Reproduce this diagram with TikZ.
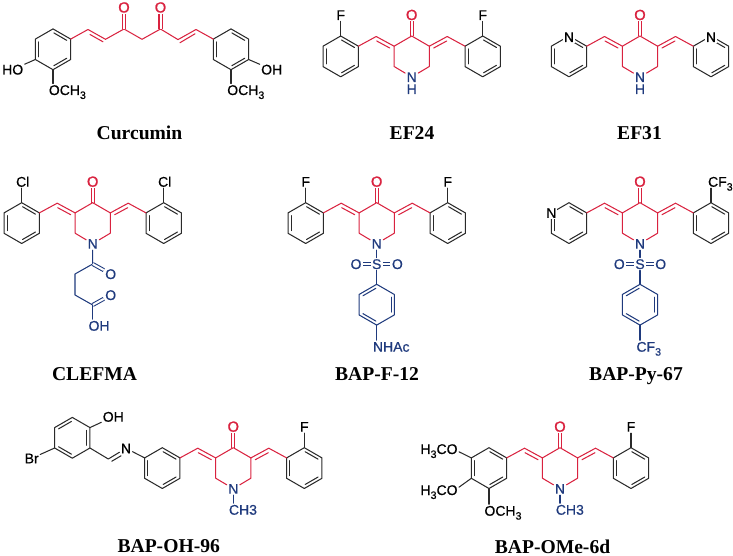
\documentclass[tikz,border=0pt]{standalone}
\usepackage{fontspec}
\usetikzlibrary{calc}
\setmainfont{Liberation Serif}
\setsansfont{Liberation Sans}
\newfontfamily\atomfont[FakeBold=0.6]{Liberation Sans}
\newfontfamily\oxyfont[FakeBold=1.2]{Liberation Sans}
\definecolor{ink}{HTML}{2A2A2A}
\definecolor{cred}{HTML}{D9223F}
\definecolor{cblue}{HTML}{1F3A7D}
\tikzset{
  bond/.style={line width=.78pt,line cap=round,line join=round},
  bk/.style={bond,ink},
  rd/.style={bond,cred},
  bl/.style={bond,cblue},
  dbl/.style={double,double distance=1.5pt,line cap=butt},
  atom/.style={font=\atomfont\fontsize{10.5}{12}\selectfont,text=black,inner sep=.9pt,text height=7.5pt,text depth=0pt},
  hetero/.style={atom,fill=white,inner sep=.5pt},
  oxy/.style={atom,text=cred,font=\oxyfont\fontsize{11}{12}\selectfont},
  blat/.style={atom,text=cblue},
  namelabel/.style={font=\bfseries\fontsize{14.7}{16}\selectfont,text=black,anchor=base,inner sep=0pt},
}
\newcommand\lowsub[1]{\raisebox{-.28em}{\fontsize{8}{8}\selectfont #1}}
% ring: style, name, centre, sides carrying the inner line
\newcommand\ring[4][bk]{%
  \begin{scope}[shift={(#3)}]
    \coordinate (#2t) at (270:20.4);
    \coordinate (#2ur) at (330:20.4);
    \coordinate (#2lr) at (30:20.4);
    \coordinate (#2b) at (90:20.4);
    \coordinate (#2ll) at (150:20.4);
    \coordinate (#2ul) at (210:20.4);
    \draw[#1] (#2t)--(#2ur)--(#2lr)--(#2b)--(#2ll)--(#2ul)--cycle;
    \foreach \s in {#4} \draw[#1] (\s-27:16.4)--(\s+27:16.4);
  \end{scope}}
% piperidone core, origin at the carbonyl carbon
\newcommand\core[1]{%
  \coordinate (#1C4) at (0,0);
  \coordinate (#1C3) at (17.6,10.2);
  \coordinate (#1C5) at (-17.6,10.2);
  \coordinate (#1C2) at (17.6,30.5);
  \coordinate (#1C6) at (-17.6,30.5);
  \coordinate (#1Hr) at (35.5,.5);
  \coordinate (#1Hl) at (-35.5,.5);
  \node[oxy] (#1O) at (0,-21) {O};
  \node[blat] (#1N) at (0,41) {N};
  \ring{#1L}{-71,20.4}{180,300,60}
  \ring{#1R}{71,20.4}{180,300,60}
  \draw[rd,dbl] (#1C4)--(#1O);
  \draw[rd] (#1C3)--(#1C4)--(#1C5)--(#1C6)--(#1N);
  \draw[rd] (#1C3)--(#1C2)--(#1N);
  \draw[rd] (#1Lur)--(#1Hl)--(#1C5);
  \draw[rd] (#1Rul)--(#1Hr)--(#1C3);
  \draw[rd] (-35,5)--(-22,12);
  \draw[rd] (35,5)--(22,12);
}
\begin{document}
\begin{tikzpicture}[x=.75pt,y=-.75pt]
\useasboundingbox (0,0) rectangle (733,556);
% ---------- Curcumin
\ring{ca}{53,49.3}{180,300,60}
\ring{cb}{231,49.3}{180,300,60}
\coordinate (c1) at (88,29.5);
\coordinate (c2) at (105.5,39.3);
\coordinate (c3) at (124,29);
\coordinate (c4) at (142,39.3);
\coordinate (c5) at (160.5,29);
\coordinate (c6) at (178,39.6);
\coordinate (c7) at (196,29.5);
\node[oxy] (co1) at (124,7.5) {O};
\node[oxy] (co2) at (160.5,7.5) {O};
\draw[rd] (caur)--(c1)--(c2)--(c3)--(c4)--(c5)--(c6)--(c7)--(cbul);
\draw[rd] (90,34.5)--(103,41.8);
\draw[rd] (180,42.7)--(195,33.8);
\draw[rd,dbl] (c3)--(co1);
\draw[rd,dbl] (c5)--(co2);
\node[atom] (cho) at (12.7,69.5) {HO};
\node[atom,anchor=west] (cmeo) at (47.4,90) {OCH\lowsub{3}};
\node[atom] (coh) at (271.7,69.5) {OH};
\node[atom,anchor=west] (cmeob) at (225.8,90) {OCH\lowsub{3}};
\draw[bk] (call)--(cho);
\draw[bk] (cab)--(cab|-cmeo.north);
\draw[bk] (cblr)--(coh);
\draw[bk] (cbb)--(cbb|-cmeob.north);
\node[namelabel] (ncur) at (139.5,140) {Curcumin};
% ---------- EF24
\begin{scope}[shift={(411.7,36)}]
\core{e}
\node[blat] (eH) at (0,53) {H};
\node[atom] (eFl) at (-71,-21) {F};
\node[atom] (eFr) at (71,-21) {F};
\draw[bk] (eLt)--(eFl);
\draw[bk] (eRt)--(eFr);
\end{scope}
\node[namelabel] (nef24) at (412,139.5) {EF24};
% ---------- EF31
\begin{scope}[shift={(640,36)}]
\core{f}
\node[blat] (fH) at (0,53) {H};
\node[hetero] (fNl) at ($(fLt)+(0,1)$) {N};
\node[hetero] (fNr) at ($(fRt)+(0,1)$) {N};
\end{scope}
\node[namelabel] (nef31) at (639.5,140) {EF31};
% ---------- CLEFMA
\begin{scope}[shift={(92.7,202.7)}]
\core{g}
\node[atom] (gCll) at (-70,-21) {Cl};
\node[atom] (gClr) at (72,-21) {Cl};
\draw[bk] (gLt)--(gLt|-gCll.south);
\draw[bk] (gRt)--(gRt|-gClr.south);
\coordinate (ga) at (0,61.3);
\coordinate (gb) at (-17.7,71.3);
\coordinate (gc) at (-17.7,92.3);
\coordinate (gd) at (0,102.3);
\node[blat] (gO1) at (18,71.3) {O};
\node[blat] (gO2) at (18,92.3) {O};
\node[blat,anchor=west] (gOH) at (-5.6,123) {OH};
\draw[bl] (gN)--(ga)--(gb)--(gc)--(gd);
\draw[bl,dbl] (ga)--(gO1);
\draw[bl,dbl] (gd)--(gO2);
\draw[bl] (gd)--(gd|-gOH.north);
\end{scope}
\node[namelabel] (nclef) at (94.5,381) {CLEFMA};
% ---------- BAP-F-12
\begin{scope}[shift={(376.7,202.7)}]
\core{h}
\node[atom] (hFl) at (-71,-21) {F};
\node[atom] (hFr) at (71,-21) {F};
\draw[bk] (hLt)--(hFl);
\draw[bk] (hRt)--(hFr);
\node[blat] (hS) at (0,61.3) {S};
\node[blat] (hO1) at (-20.7,61.3) {O};
\node[blat] (hO2) at (20.7,61.3) {O};
\ring[bl]{hP}{0,102}{240,120,0}
\node[blat,anchor=west] (hNH) at (-5.2,144) {NHAc};
\draw[bl] (hN)--(hS);
\draw[bl,dbl] (hS)--(hO1);
\draw[bl,dbl] (hS)--(hO2);
\draw[bl] (hS)--(hPt);
\draw[bl] (hPb)--(hPb|-hNH.north);
\end{scope}
\node[namelabel] (nf12) at (377,381) {BAP-F-12};
% ---------- BAP-Py-67
\begin{scope}[shift={(640,202.7)}]
\core{p}
\node[hetero] (pNl) at (pLul) {N};
\node[atom,anchor=west] (pCF) at (66.6,-21) {CF\lowsub{3}};
\draw[bk] (pRt)--(pRt|-pCF.south);
\node[blat] (pS) at (0,61.3) {S};
\node[blat] (pO1) at (-20.7,61.3) {O};
\node[blat] (pO2) at (20.7,61.3) {O};
\ring[bl]{pP}{0,102}{240,120,0}
\node[blat,anchor=west] (pCFb) at (-5,144) {CF\lowsub{3}};
\draw[bl] (pN)--(pS);
\draw[bl,dbl] (pS)--(pO1);
\draw[bl,dbl] (pS)--(pO2);
\draw[bl] (pS)--(pPt);
\draw[bl] (pPb)--(pPb|-pCFb.north);
\end{scope}
\node[namelabel] (npy) at (636,381) {BAP-Py-67};
% ---------- BAP-OH-96
\begin{scope}[shift={(233.3,447.7)}]
\core{q}
\node[atom] (qF) at (71,-21) {F};
\draw[bk] (qRt)--(qF);
\node[blat,anchor=west] (qMe) at (-5.8,62) {CH3};
\draw[bl] (qN)--(qN|-qMe.north);
\end{scope}
\ring{qS}{72.3,437.8}{240,0,120}
\node[atom] (qOH) at (113.3,416.7) {OH};
\node[atom] (qBr) at (31.7,458.3) {Br};
\node[atom] (qIm) at (126,448.3) {N};
\coordinate (qCH) at (108.3,459);
\draw[bk] (qSur)--(qOH);
\draw[bk] (qSll)--(qBr);
\draw[bk] (qSlr)--(qCH)--(qIm);
\draw[bk] (111.7,461.3)--(121,455.8);
\draw[bk] (qIm)--(qLul);
\node[namelabel] (n96) at (168.7,552.5) {BAP-OH-96};
% ---------- BAP-OMe-6d
\begin{scope}[shift={(560,447.7)}]
\core{r}
\node[atom] (rF) at (71,-21) {F};
\draw[bk] (rRt)--(rF);
\node[blat,anchor=west] (rMe) at (-5.6,62) {CH3};
\draw[bl] (rN)--(rN|-rMe.north);
\node[atom,anchor=east] (rO1) at (-101,1.3) {H\lowsub{3}CO};
\node[atom,anchor=east] (rO2) at (-101,42.3) {H\lowsub{3}CO};
\node[atom,anchor=west] (rO3) at (-77,63) {OCH\lowsub{3}};
\draw[bk] (rLul)--(rO1.-8);
\draw[bk] (rLll)--(rO2.8);
\draw[bk] (rLb)--(rLb|-rO3.north);
\end{scope}
\node[namelabel] (n6d) at (552.5,553) {BAP-OMe-6d};
\end{tikzpicture}
\end{document}
